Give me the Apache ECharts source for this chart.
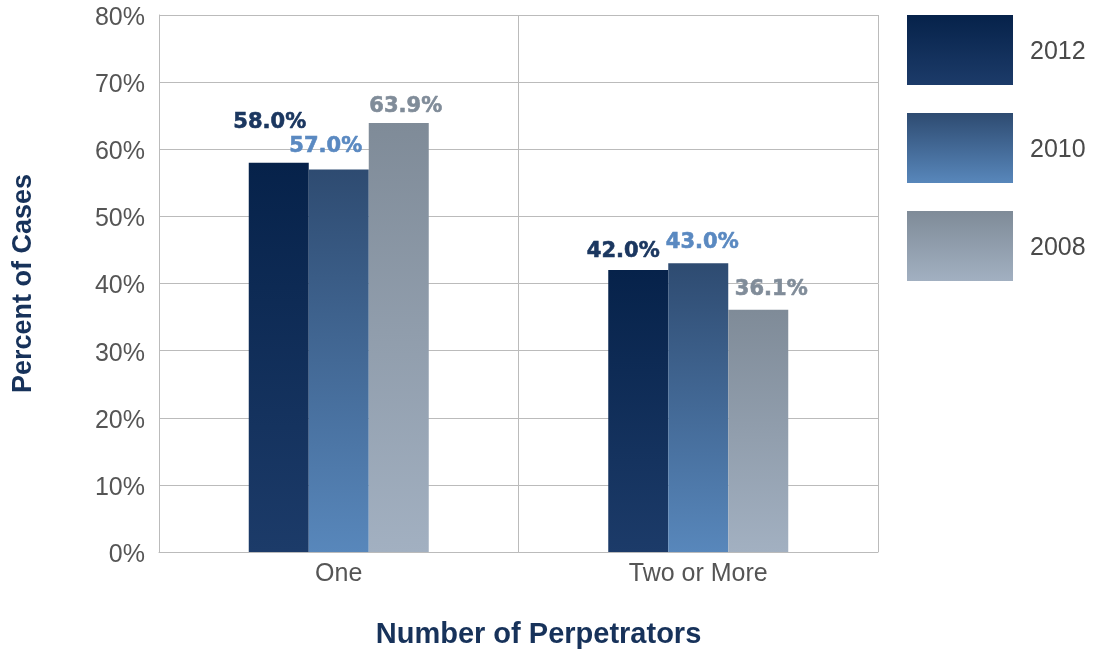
<!DOCTYPE html>
<html>
<head>
<meta charset="utf-8">
<script src="https://cdn.jsdelivr.net/npm/echarts@6/dist/echarts.min.js"></script>
<style>html,body{margin:0;padding:0;background:#fff}#c{width:1096px;height:654px}</style>
</head>
<body>
<div id="c"></div>
<script>
const categories = ['One', 'Two or More'];
const seriesNames = ['2012', '2010', '2008'];
const values2012 = [58.0, 42.0];
const values2010 = [57.0, 43.0];
const values2008 = [63.9, 36.1];
const yTicks = [0, 10, 20, 30, 40, 50, 60, 70, 80];

const allValues = [values2012, values2010, values2008];
const grads = [
  ['#06224a', '#1c3b69'],
  ['#2e4b71', '#5887bb'],
  ['#7f8b98', '#a2b0c1']
];
const labelColors = ['#1b3760', '#5a89c1', '#808c99'];
// label offsets [dx, dy] per series per category (style only)
const labelOffsets = [
  [[-9, -22], [-15, 0]],
  [[-13, -4], [4, -2]],
  [[7, 2], [13, -2]]
];

const F = '"Liberation Sans", Arial, sans-serif';
const FL = '"DejaVu Sans", sans-serif';

const series = seriesNames.map((name, si) => ({
  name: name,
  type: 'bar',
  barWidth: 60,
  barGap: '0%',
  itemStyle: {
    color: new echarts.graphic.LinearGradient(0, 0, 0, 1, [
      { offset: 0, color: grads[si][0] },
      { offset: 1, color: grads[si][1] }
    ])
  },
  data: allValues[si].map((v, ci) => ({
    value: v,
    label: { offset: labelOffsets[si][ci] }
  })),
  label: {
    show: true,
    position: 'top',
    distance: 8,
    formatter: p => p.value.toFixed(1) + '%',
    color: labelColors[si],
    fontFamily: FL,
    fontWeight: 'bold',
    fontSize: 21,
    textBorderColor: labelColors[si],
    textBorderWidth: 0.6
  }
}));

const chart = echarts.init(document.getElementById('c'), null, { renderer: 'canvas' });
chart.setOption({
  animation: false,
  backgroundColor: '#fff',
  grid: { left: 159, right: 218, top: 15, bottom: 102, containLabel: false },
  legend: {
    orient: 'vertical',
    left: 902,
    top: 10,
    itemWidth: 106,
    itemHeight: 70,
    itemGap: 28,
    icon: 'rect',
    formatter: n => '{t|' + n + '}',
    textStyle: {
      fontFamily: F, fontSize: 25, color: '#4a4a4a',
      rich: { t: { fontFamily: F, fontSize: 25, color: '#4a4a4a', padding: [4, 0, 0, 12] } }
    },
    data: seriesNames
  },
  xAxis: {
    type: 'category',
    data: categories,
    boundaryGap: true,
    axisLine: { show: true, lineStyle: { color: '#bbb', width: 1 } },
    axisTick: { show: false },
    splitLine: { show: true, lineStyle: { color: '#bbb', width: 1 } },
    axisLabel: { fontFamily: F, fontSize: 25, color: '#555', margin: 10 },
    name: 'Number of Perpetrators',
    nameLocation: 'middle',
    nameGap: 68,
    nameTextStyle: { fontFamily: F, fontSize: 29, fontWeight: 'bold', color: '#17325a', padding: [0, 0, 0, 40] }
  },
  yAxis: {
    type: 'value',
    min: 0,
    max: 80,
    interval: 10,
    axisLine: { show: true, lineStyle: { color: '#bbb', width: 1 } },
    axisTick: { show: false },
    splitLine: { show: true, lineStyle: { color: '#bbb', width: 1 } },
    axisLabel: {
      fontFamily: F, fontSize: 25, color: '#555', margin: 14,
      formatter: v => (yTicks.includes(v) ? '{v|' + v + '%}' : ''),
      rich: { v: { fontFamily: F, fontSize: 25, color: '#555', padding: [6, 0, 0, 0] } }
    },
    name: 'Percent of Cases',
    nameLocation: 'middle',
    nameGap: 122,
    nameRotate: 90,
    nameTextStyle: { fontFamily: F, fontSize: 27, fontWeight: 'bold', color: '#17325a' }
  },
  series: series
});
</script>
</body>
</html>
